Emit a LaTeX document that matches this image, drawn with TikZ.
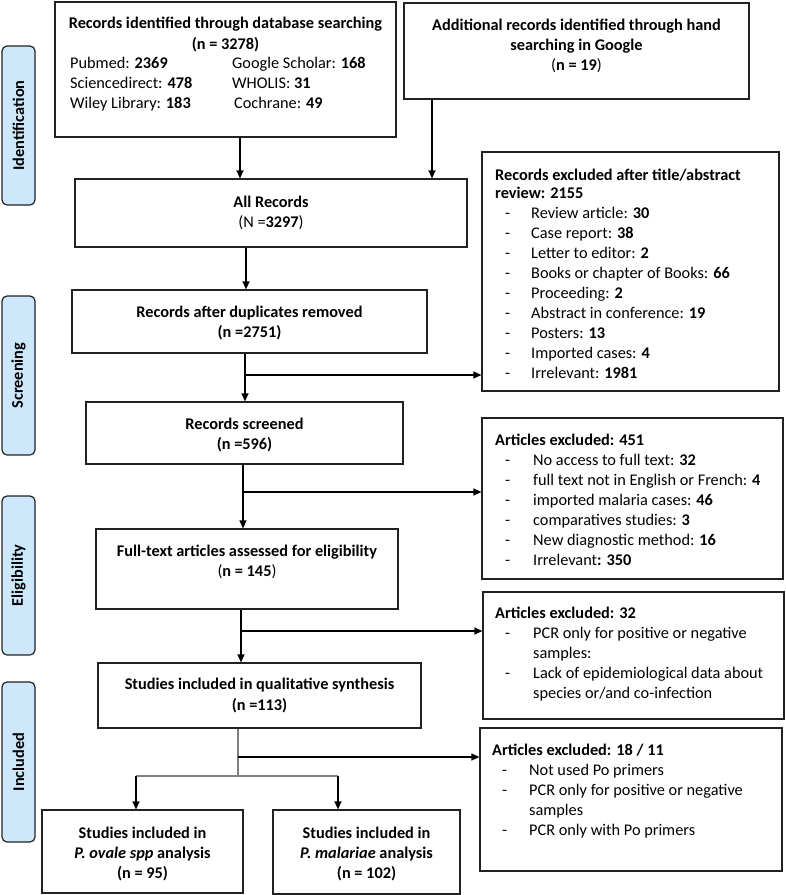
\documentclass[tikz,border=0pt]{standalone}
\usepackage{fontspec}
\setmainfont{Carlito}
\usetikzlibrary{arrows.meta,fit}
\definecolor{sideblue}{HTML}{CDE8FA}
\definecolor{edge}{HTML}{222222}
\newcommand\mlc[1]{\begin{tabular}[t]{@{}c@{}}#1\end{tabular}}
\begin{document}
\begin{tikzpicture}[x=1pt,y=-1pt,
  box/.style={draw=edge, line width=1.2pt, inner sep=0pt},
  sidebox/.style={draw=edge, line width=1.2pt, fill=sideblue, rounded corners=5pt, inner sep=0pt},
  txt/.style={inner sep=0pt, font=\fontsize{16.3}{20}\selectfont},
  sidetxt/.style={inner sep=0pt, rotate=90, font=\fontsize{16.3}{20}\selectfont\bfseries},
  arr/.style={draw=black, line width=1.2pt, -{Triangle[length=8pt,width=7pt]}},
  gline/.style={draw=gray, line width=1.2pt},
]
\useasboundingbox (0,0) rectangle (786,895);

% side labels
\node[sidebox, fit={(2,46)(35,205)}] (s1) {};
\node[sidetxt] (s1t) at (s1.center) {Identification};
\node[sidebox, fit={(2,296)(35,455)}] (s2) {};
\node[sidetxt] (s2t) at (s2.center) {Screening};
\node[sidebox, fit={(2,496)(35,655)}] (s3) {};
\node[sidetxt] (s3t) at (s3.center) {Eligibility};
\node[sidebox, fit={(2,682)(35,842)}] (s4) {};
\node[sidetxt] (s4t) at (s4.center) {Included};

% main boxes
\node[box, fit={(55,2)(396,137)}] (b1) {};
\node[txt, anchor=base] (b1t) at (225.5,28) {\mlc{\textbf{Records identified through database searching}\\[1pt]\textbf{(n = 3278)}}};
\node[txt, anchor=base west] (b1l) at (70,68) {\begin{tabular}[t]{@{}p{162pt}@{}l@{}}
Pubmed: \textbf{2369} & Google Scholar: \textbf{168}\\
Sciencedirect: \textbf{478} & WHOLIS: \textbf{31}\\
Wiley Library: \textbf{183} & \hspace{2pt}Cochrane: \textbf{49}
\end{tabular}};

\node[box, fit={(404,3)(749,99)}] (b2) {};
\node[txt, anchor=base] (b2t) at (576.5,30) {\mlc{\textbf{Additional records identified through hand}\\\textbf{searching in Google}\\(\textbf{n = 19})}};

\node[box, fit={(75,179)(467,247)}] (all) {};
\node[txt, anchor=base] (allt) at (271,207) {\mlc{\textbf{All Records}\\(N =\textbf{3297})}};

\node[box, fit={(72,290)(427,353)}] (dup) {};
\node[txt, anchor=base] (dupt) at (249.5,317) {\mlc{\textbf{Records after duplicates removed}\\\textbf{(n =2751)}}};

\node[box, fit={(86,402)(403,464)}] (scr) {};
\node[txt, anchor=base] (scrt) at (244.5,429) {\mlc{\textbf{Records screened}\\\textbf{(n =596)}}};

\node[box, fit={(96,529)(398,609)}] (full) {};
\node[txt, anchor=base] (fullt) at (247,556) {\mlc{\textbf{Full-text articles assessed for eligibility}\\(\textbf{n = 145})}};

\node[box, fit={(98,663)(421,728)}] (qual) {};
\node[txt, anchor=base] (qualt) at (259.5,689) {\mlc{\textbf{Studies included in qualitative synthesis}\\[1pt]\textbf{(n =113)}}};

\node[box, fit={(42,810)(243,893)}] (bl) {};
\node[txt, anchor=base] (blt) at (142.5,838) {\mlc{\textbf{Studies included in}\\\textbf{\textit{P. ovale spp} analysis}\\\textbf{(n = 95)}}};

\node[box, fit={(273,810)(460,894)}] (br) {};
\node[txt, anchor=base] (brt) at (366.5,838) {\mlc{\textbf{Studies included in}\\\textbf{\textit{P. malariae} analysis}\\\textbf{(n = 102)}}};

% exclusion boxes
\node[box, fit={(482,152)(779,391)}] (ex1) {};
\node[txt, anchor=base west] (ex1t) at (495,180) {\begin{tabular}[t]{@{}p{36pt}@{}l@{}}
\multicolumn{2}{@{}l@{}}{\textbf{Records excluded after title/abstract}}\\[-2pt]
\multicolumn{2}{@{}l@{}}{\textbf{review: 2155}}\\
\hspace{10pt}- & Review article: \textbf{30}\\
\hspace{10pt}- & Case report: \textbf{38}\\
\hspace{10pt}- & Letter to editor: \textbf{2}\\
\hspace{10pt}- & Books or chapter of Books: \textbf{66}\\
\hspace{10pt}- & Proceeding: \textbf{2}\\
\hspace{10pt}- & Abstract in conference: \textbf{19}\\
\hspace{10pt}- & Posters: \textbf{13}\\
\hspace{10pt}- & Imported cases: \textbf{4}\\
\hspace{10pt}- & Irrelevant: \textbf{1981}
\end{tabular}};

\node[box, fit={(482,418)(783,579)}] (ex2) {};
\node[txt, anchor=base west] (ex2t) at (495,445) {\begin{tabular}[t]{@{}p{38pt}@{}l@{}}
\multicolumn{2}{@{}l@{}}{\textbf{Articles excluded: 451}}\\
\hspace{10pt}- & No access to full text: \textbf{32}\\
\hspace{10pt}- & full text not in English or French: \textbf{4}\\
\hspace{10pt}- & imported malaria cases: \textbf{46}\\
\hspace{10pt}- & comparatives studies: \textbf{3}\\
\hspace{10pt}- & New diagnostic method: \textbf{16}\\
\hspace{10pt}- & Irrelevant\textbf{: 350}
\end{tabular}};

\node[box, fit={(483,592)(784,719)}] (ex3) {};
\node[txt, anchor=base west] (ex3t) at (495,618) {\begin{tabular}[t]{@{}p{38pt}@{}l@{}}
\multicolumn{2}{@{}l@{}}{\textbf{Articles excluded: 32}}\\
\hspace{10pt}- & PCR only for positive or negative\\
 & samples:\\
\hspace{10pt}- & Lack of epidemiological data about\\
 & species or/and co-infection
\end{tabular}};

\node[box, fit={(480,728)(782,871)}] (ex4) {};
\node[txt, anchor=base west] (ex4t) at (492,755) {\begin{tabular}[t]{@{}p{37pt}@{}l@{}}
\multicolumn{2}{@{}l@{}}{\textbf{Articles excluded: 18 / 11}}\\
\hspace{10pt}- & Not used Po primers\\
\hspace{10pt}- & PCR only for positive or negative\\
 & samples\\
\hspace{10pt}- & PCR only with Po primers
\end{tabular}};

% connectors
\draw[arr] (b1.south -| 240,0) -- (all.north -| 240,0);
\draw[arr] (b2.south -| 432,0) -- (all.north -| 432,0);
\draw[arr] (all.south -| 246,0) -- (dup.north -| 246,0);
\draw[arr] (dup.south -| 245,0) -- (scr.north -| 245,0);
\coordinate (j1) at (245,375);
\draw[arr] (j1) -- (ex1.west |- j1);
\draw[arr] (scr.south -| 243,0) -- (full.north -| 243,0);
\coordinate (j2) at (243,492);
\draw[arr] (j2) -- (ex2.west |- j2);
\draw[arr] (full.south -| 241,0) -- (qual.north -| 241,0);
\coordinate (j3) at (241,631);
\draw[arr] (j3) -- (ex3.west |- j3);
\coordinate (j4) at (238,757);
\coordinate (j5) at (238,776);
\draw[gline] (qual.south -| j5) -- (j5);
\draw[arr] (j4) -- (ex4.west |- j4);
\coordinate (jl) at (136,776);
\coordinate (jr) at (338,776);
\draw[gline] (jl) -- (jr);
\draw[arr] (jl) -- (bl.north -| jl);
\draw[arr] (jr) -- (br.north -| jr);
\end{tikzpicture}
\end{document}
